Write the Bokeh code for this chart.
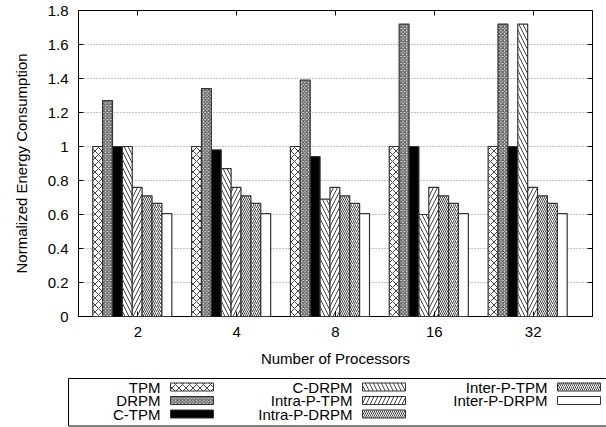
from bokeh.plotting import figure
from bokeh.layouts import column
from bokeh.models import Range1d, FixedTicker, LinearAxis
from bokeh.core.properties import value
from bokeh.embed import file_html
from bokeh.resources import INLINE

# ---- data ----
processors = ["2", "4", "8", "16", "32"]
series = ["TPM", "DRPM", "C-TPM", "C-DRPM", "Intra-P-TPM", "Intra-P-DRPM",
          "Inter-P-TPM", "Inter-P-DRPM"]
tpm = [1.0, 1.0, 1.0, 1.0, 1.0]
drpm = [1.27, 1.34, 1.39, 1.72, 1.72]
c_tpm = [1.0, 0.98, 0.94, 1.0, 1.0]
c_drpm = [1.0, 0.87, 0.69, 0.60, 1.72]
intra_p_tpm = [0.76, 0.76, 0.76, 0.76, 0.76]
intra_p_drpm = [0.71, 0.71, 0.71, 0.71, 0.71]
inter_p_tpm = [0.665, 0.665, 0.665, 0.665, 0.665]
inter_p_drpm = [0.605, 0.605, 0.605, 0.605, 0.605]
values = [tpm, drpm, c_tpm, c_drpm, intra_p_tpm, intra_p_drpm, inter_p_tpm, inter_p_drpm]
y_ticks = [0, 0.2, 0.4, 0.6, 0.8, 1.0, 1.2, 1.4, 1.6, 1.8]
y_tick_labels = ["0", "0.2", "0.4", "0.6", "0.8", "1", "1.2", "1.4", "1.6", "1.8"]

# ---- styles ----
styles = [
    dict(fill_color="white", hatch_pattern="x", hatch_scale=7, hatch_weight=1, hatch_color="#444"),
    dict(fill_color="#dddddd", hatch_pattern="x", hatch_scale=3.5, hatch_weight=1, hatch_color="#444"),
    dict(fill_color="black", hatch_pattern=None),
    dict(fill_color="white", hatch_pattern="\\", hatch_scale=8, hatch_weight=1, hatch_color="#444"),
    dict(fill_color="white", hatch_pattern="/", hatch_scale=8, hatch_weight=1, hatch_color="#444"),
    dict(fill_color="white", hatch_pattern="\\", hatch_scale=4, hatch_weight=1, hatch_color="#444"),
    dict(fill_color="white", hatch_pattern="/", hatch_scale=4, hatch_weight=1, hatch_color="#444"),
    dict(fill_color="white", hatch_pattern=None),
]

FONT = "Liberation Sans"
FS = "15px"
group_x = list(range(1, len(processors) + 1))
bar_w = 0.1

p = figure(width=606, height=370, x_range=Range1d(0.4, 5.6), y_range=Range1d(0, 1.8),
           output_backend="svg", toolbar_location=None,
           min_border_left=78, min_border_right=14, min_border_top=10, min_border_bottom=54)
p.frame_align = False
p.outline_line_color = "black"
p.outline_line_width = 1
p.background_fill_color = "white"

p.xgrid.visible = False
p.ygrid.ticker = FixedTicker(ticks=y_ticks[1:-1])
p.ygrid.grid_line_color = "#888888"
p.ygrid.grid_line_dash = "1 2"
p.ygrid.grid_line_width = 1

p.xaxis.ticker = FixedTicker(ticks=group_x)
p.xaxis.major_label_overrides = {g: lab for g, lab in zip(group_x, processors)}
p.yaxis.ticker = FixedTicker(ticks=y_ticks)
p.yaxis.major_label_overrides = {t: lab for t, lab in zip(y_ticks, y_tick_labels)}
p.xaxis.axis_label = "Number of Processors"
p.yaxis.axis_label = "Normalized Energy Consumption"
for ax in p.axis:
    ax.major_tick_in = 5
    ax.major_tick_out = 0
    ax.minor_tick_line_color = None
    ax.axis_line_color = None
    ax.major_tick_line_color = "black"
    ax.major_label_text_font = FONT
    ax.major_label_text_font_size = FS
    ax.major_label_text_color = "black"
    ax.axis_label_text_font = FONT
    ax.axis_label_text_font_size = FS
    ax.axis_label_text_font_style = "normal"
    ax.axis_label_text_color = "black"
p.xaxis.major_label_standoff = 10
p.xaxis.axis_label_standoff = 10
p.yaxis.major_label_standoff = 10
p.yaxis.axis_label_standoff = 15

top_ax = LinearAxis(ticker=FixedTicker(ticks=group_x), major_label_text_font_size="0px",
                    major_label_text_color=None,
                    major_tick_in=5, major_tick_out=0, axis_line_color=None,
                    minor_tick_line_color=None, major_label_standoff=0)
right_ax = LinearAxis(ticker=FixedTicker(ticks=y_ticks), major_label_text_font_size="0px",
                      major_label_text_color=None,
                      major_tick_in=5, major_tick_out=0, axis_line_color=None,
                      minor_tick_line_color=None, major_label_standoff=0)
p.add_layout(top_ax, "above")
p.add_layout(right_ax, "right")

for i, (name, vals, st) in enumerate(zip(series, values, styles)):
    off = -0.406 + bar_w * i
    xs = [g + off for g in group_x]
    p.vbar(x=xs, top=vals, bottom=0, width=bar_w, line_color="#333333", line_width=1.2, **st)

# ---- legend figure ----
lg = figure(width=606, height=57, x_range=Range1d(0, 606), y_range=Range1d(57, 0),
            output_backend="svg", toolbar_location=None, min_border=0)
lg.frame_align = False
lg.axis.visible = False
lg.grid.visible = False
lg.outline_line_color = None
lg.quad(left=[68], right=[640], top=[8], bottom=[55.5], fill_color=None,
        line_color="black", line_width=1)

col_label_right = [160, 352, 547]
row_y = [16.5, 30, 43.5]
for i, (name, st) in enumerate(zip(series, styles)):
    c, r = i // 3, i % 3
    xr = col_label_right[c]
    y = row_y[r]
    lg.text(x=[xr], y=[y], text=[name], text_align="right", text_baseline="middle",
            text_font=value(FONT), text_font_size=FS, text_color="black")
    lg.quad(left=[xr + 10], right=[xr + 53], top=[y - 4], bottom=[y + 4],
            line_color="#333333", line_width=1, **st)

layout = column(p, lg, spacing=0)
open("out.html", "w").write(file_html(layout, INLINE))
